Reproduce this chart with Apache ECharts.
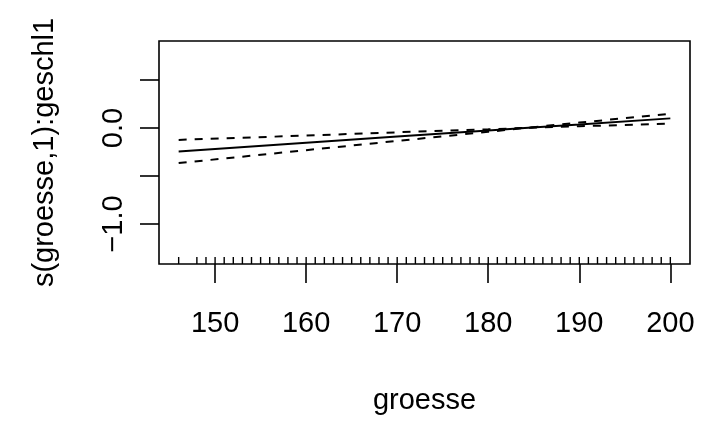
<!DOCTYPE html>
<html>
<head>
<meta charset="utf-8">
<script src="https://cdn.jsdelivr.net/npm/echarts@6/dist/echarts.min.js"></script>
<style>
  html, body { margin: 0; padding: 0; background: #fff; }
  #chart { width: 702px; height: 423px; }
</style>
</head>
<body>
<div id="chart"></div>
<script>
// Smooth term for body height (groesse) within geschl level 1, with 2·SE bands
const groesse = [146, 160, 170, 180, 184, 190, 200];
const fit     = [-0.245, -0.155, -0.090, -0.027, 0.000, 0.037, 0.100];
const upper   = [-0.124, -0.079, -0.045, -0.014, 0.000, 0.056, 0.148];
const lower   = [-0.366, -0.231, -0.135, -0.040, 0.000, 0.018, 0.045];

// Observed heights shown as a rug along the x axis
const rugValues = [146, 148, 149,
  150, 151, 152, 153, 154, 155, 156, 157, 158, 159,
  160, 161, 162, 163, 164, 165, 166, 167, 168, 169,
  170, 171, 172, 173, 174, 175, 176, 177, 178, 179,
  180, 181, 182, 183, 184, 185, 186, 187, 188, 189,
  190, 191, 192, 193, 194, 195, 196, 197, 198, 199, 200];

const xTicks = [150, 160, 170, 180, 190, 200];
const yTicks = [-1.0, -0.5, 0.0, 0.5];
const yTickLabels = [-1.0, 0.0];

const xMin = 143.84, xMax = 202.16;
const yMin = -1.417, yMax = 0.906;

const FONT = '"Liberation Sans", Arial, Helvetica, sans-serif';

const pairs = ys => groesse.map((x, i) => [x, ys[i]]);

const chart = echarts.init(document.getElementById('chart'), null, { renderer: 'canvas' });

chart.setOption({
  animation: false,
  backgroundColor: '#ffffff',
  grid: {
    left: 159, right: 12, top: 41, bottom: 159,
    show: true, borderColor: '#000', borderWidth: 1.6, backgroundColor: 'transparent'
  },
  xAxis: {
    type: 'value', min: xMin, max: xMax,
    name: 'groesse', nameLocation: 'middle', nameGap: 122,
    nameTextStyle: { color: '#000', fontSize: 29, fontFamily: FONT },
    axisLine: { show: false, onZero: false },
    splitLine: { show: false },
    axisTick: { show: true, length: 19, lineStyle: { color: '#000', width: 1.6 }, customValues: xTicks },
    axisLabel: { color: '#000', fontSize: 29, fontFamily: FONT, margin: 45, customValues: xTicks,
                 formatter: v => String(v) }
  },
  yAxis: {
    type: 'value', min: yMin, max: yMax,
    name: 's(groesse,1):geschl1', nameLocation: 'middle', nameGap: 100,
    nameTextStyle: { color: '#000', fontSize: 29, fontFamily: FONT },
    axisLine: { show: false, onZero: false },
    splitLine: { show: false },
    axisTick: { show: true, length: 19, lineStyle: { color: '#000', width: 1.6 }, customValues: yTicks },
    axisLabel: { color: '#000', fontSize: 29, fontFamily: FONT, margin: 31, rotate: 90,
                 customValues: yTickLabels,
                 formatter: v => (v < 0 ? '\u2212' : '') + Math.abs(v).toFixed(1) }
  },
  series: [
    {
      type: 'line', data: pairs(fit), symbol: 'none', silent: true,
      lineStyle: { color: '#000', width: 2 }
    },
    {
      type: 'line', data: pairs(upper), symbol: 'none', silent: true,
      lineStyle: { color: '#000', width: 2, type: [8, 8] }
    },
    {
      type: 'line', data: pairs(lower), symbol: 'none', silent: true,
      lineStyle: { color: '#000', width: 2, type: [8, 8] }
    },
    {
      type: 'custom', silent: true, clip: false,
      data: rugValues.map(v => [v, yMin]),
      renderItem: (params, api) => {
        const p = api.coord([api.value(0), api.value(1)]);
        return {
          type: 'line',
          shape: { x1: p[0], y1: p[1], x2: p[0], y2: p[1] - 7 },
          style: { stroke: '#000', lineWidth: 1.4 }
        };
      }
    }
  ]
});
</script>
</body>
</html>
